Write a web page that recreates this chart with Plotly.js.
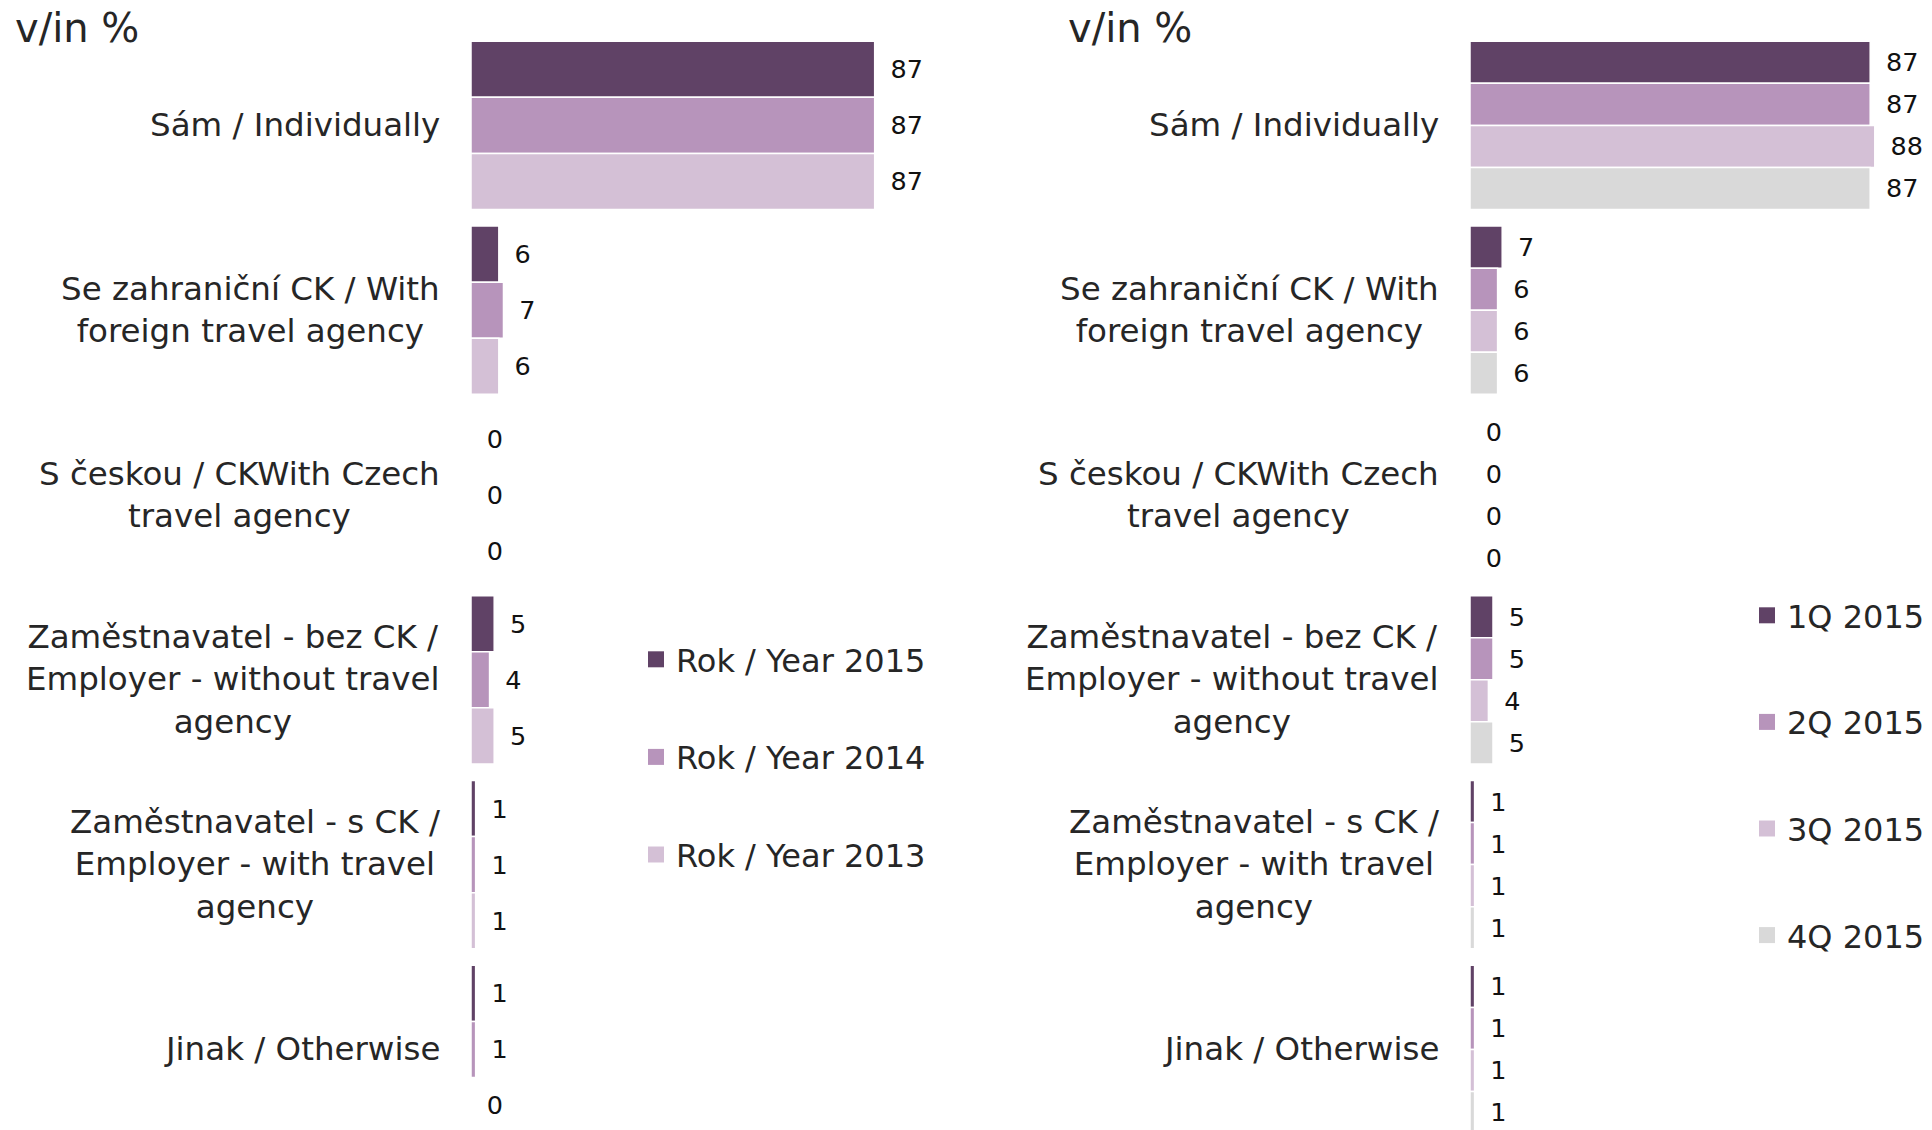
<!DOCTYPE html>
<html>
<head>
<meta charset="utf-8">
<script src="https://cdn.plot.ly/plotly-3.0.1.min.js"></script>
<style>html,body{margin:0;padding:0;background:#fff;}#chart{width:1932px;height:1130px;}</style>
</head>
<body>
<div id="chart"></div>
<script>
// ---- data ----
const categories = [
  "Sám / Individually",
  "Se zahraniční CK / With<br>foreign travel agency",
  "S českou / CKWith Czech<br>travel agency",
  "Zaměstnavatel - bez CK /<br>Employer - without travel<br>agency",
  "Zaměstnavatel - s CK /<br>Employer - with travel<br>agency",
  "Jinak / Otherwise"
];
const yearNames = ["Rok / Year 2015", "Rok / Year 2014", "Rok / Year 2013"];
const year2015 = [87, 6, 0, 5, 1, 1];
const year2014 = [87, 7, 0, 4, 1, 1];
const year2013 = [87, 6, 0, 5, 1, 0];

const quarterNames = ["1Q 2015", "2Q 2015", "3Q 2015", "4Q 2015"];
const q1 = [87, 7, 0, 5, 1, 1];
const q2 = [87, 6, 0, 5, 1, 1];
const q3 = [88, 6, 0, 4, 1, 1];
const q4 = [87, 6, 0, 5, 1, 1];

const unitLabel = "v/in %";

// ---- styles ----
const yearColors = ["#604266", "#B794BB", "#D4C0D6"];
const quarterColors = ["#604266", "#B794BB", "#D4C0D6", "#D9D9D9"];
const FONT = "DejaVu Sans, Verdana, sans-serif";
const TXT = "#262626";

function barTrace(vals, name, color, xa, ya) {
  return {
    type: "bar", orientation: "h",
    x: vals, y: categories, name: name,
    xaxis: xa, yaxis: ya, showlegend: false,
    marker: {color: color, line: {color: "#ffffff", width: 1.5}},
    texttemplate: "\u2002%{x}", textposition: "outside", cliponaxis: false,
    textfont: {family: FONT, size: 25.5, color: "#111111"},
    hoverinfo: "skip"
  };
}
function legendTrace(name, color, xa, ya, legendId, grp) {
  return {
    type: "scatter", mode: "markers", x: [null], y: [null], name: name,
    xaxis: xa, yaxis: ya, legend: legendId, legendgroup: grp, showlegend: true,
    marker: {symbol: "square", size: 17, color: color}, hoverinfo: "skip"
  };
}

const traces = [];
[year2015, year2014, year2013].forEach((v, i) =>
  traces.push(barTrace(v, yearNames[i], yearColors[i], "x", "y")));
[q1, q2, q3, q4].forEach((v, i) =>
  traces.push(barTrace(v, quarterNames[i], quarterColors[i], "x2", "y2")));
yearNames.forEach((n, i) =>
  traces.push(legendTrace(n, yearColors[i], "x", "y", "legend", "y" + i)));
quarterNames.forEach((n, i) =>
  traces.push(legendTrace(n, quarterColors[i], "x2", "y2", "legend2", "q" + i)));

const annotations = [];
categories.forEach(c => {
  ["x", "x2"].forEach((xa, k) => {
    annotations.push({
      xref: xa + " domain", x: 0, xanchor: "right", xshift: -29,
      yref: k === 0 ? "y" : "y2", y: c, yanchor: "middle",
      text: c, align: "center", showarrow: false,
      font: {family: FONT, size: 32.5, color: TXT}
    });
  });
});
annotations.push({xref: "paper", yref: "paper", x: 13/1932, y: 1 - 28/1130,
  xanchor: "left", yanchor: "middle", text: unitLabel, showarrow: false,
  font: {family: FONT, size: 40, color: TXT}});
annotations.push({xref: "paper", yref: "paper", x: 1066/1932, y: 1 - 28/1130,
  xanchor: "left", yanchor: "middle", text: unitLabel, showarrow: false,
  font: {family: FONT, size: 40, color: TXT}});

const yAx = {
  type: "category", range: [5.436, -0.5], domain: [0, 0.9708],
  showticklabels: false, showgrid: false, zeroline: false, showline: false, ticks: ""
};
const xAx = {range: [0, 100], showticklabels: false, showgrid: false, zeroline: false, showline: false, ticks: ""};

const layout = {
  width: 1932, height: 1130,
  margin: {l: 0, r: 0, t: 0, b: 0},
  paper_bgcolor: "#ffffff", plot_bgcolor: "#ffffff",
  font: {family: FONT, color: TXT},
  barmode: "group", bargap: 0.09, bargroupgap: 0,
  xaxis: Object.assign({}, xAx, {domain: [471/1932, 935/1932], anchor: "y"}),
  yaxis: Object.assign({}, yAx, {anchor: "x"}),
  xaxis2: Object.assign({}, xAx, {domain: [1470/1932, 1930/1932], anchor: "y2"}),
  yaxis2: Object.assign({}, yAx, {anchor: "x2"}),
  legend: {x: 636/1932, xanchor: "left", y: 1 - 632/1130, yanchor: "top",
    traceorder: "grouped", tracegroupgap: 53, bgcolor: "rgba(0,0,0,0)",
    font: {family: FONT, size: 32, color: TXT}},
  legend2: {x: 1747/1932, xanchor: "left", y: 1 - 588/1130, yanchor: "top",
    traceorder: "grouped", tracegroupgap: 62, bgcolor: "rgba(0,0,0,0)",
    font: {family: FONT, size: 32, color: TXT}},
  showlegend: true,
  annotations: annotations
};

Plotly.newPlot("chart", traces, layout, {displayModeBar: false, staticPlot: true});
</script>
</body>
</html>
